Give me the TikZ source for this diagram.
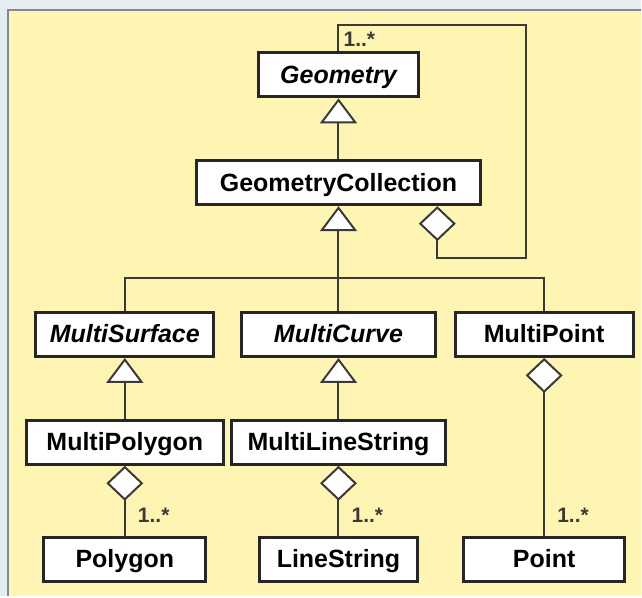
\documentclass[tikz,border=0pt]{standalone}
\usepackage{fontspec}
\setmainfont{Liberation Sans}
\usetikzlibrary{arrows.meta}

\definecolor{bgyellow}{HTML}{FEF5B2}
\definecolor{bgedge}{HTML}{E6EDF2}
\definecolor{framegray}{HTML}{7D8C94}
\definecolor{linegray}{HTML}{3A3A3A}

\tikzset{
    umlbox/.style={draw=black!85, line width=3pt, fill=white, minimum height=44pt, inner sep=0pt,
        text height=18pt, text depth=1pt,
        font=\fontsize{25}{28}\selectfont\bfseries},
    abstractbox/.style={umlbox, font=\fontsize{25}{28}\selectfont\bfseries\itshape},
    link/.style={draw=linegray, line width=2pt},
    inherit/.style={link, -{Triangle[length=25pt, width=37pt, fill=white]}},
    aggr/.style={link, {Diamond[length=35pt, width=37pt, fill=white]}-},
    mult/.style={font=\fontsize{21}{24}\selectfont\bfseries, text=linegray, inner sep=0pt, anchor=west},
}

\begin{document}
\begin{tikzpicture}[x=1pt, y=-1pt]
    % Frame and background
    \fill[bgedge] (0,0) rectangle (642,597);
    \fill[bgyellow] (8,10) rectangle (642,597);
    \draw[framegray, line width=2pt] (8,597) -- (8,10) -- (642,10);
    \useasboundingbox (0,0) rectangle (642,597);

    % Column positions
    \def\xleft{125}
    \def\xmid{339}
    \def\xright{545}

    % Classes
    \node[abstractbox, minimum width=160pt] (geom) at (\xmid,75) {Geometry};
    \node[umlbox, minimum width=284pt] (coll) at (\xmid,183) {GeometryCollection};
    \node[abstractbox, minimum width=178pt] (msurf) at (\xleft,335) {MultiSurface};
    \node[abstractbox, minimum width=194pt] (mcurve) at (\xmid,335) {MultiCurve};
    \node[umlbox, minimum width=178pt] (mpoint) at (\xright,335) {MultiPoint};
    \node[umlbox, minimum width=197pt] (mpoly) at (\xleft,443) {MultiPolygon};
    \node[umlbox, minimum width=215pt] (mline) at (\xmid,443) {MultiLineString};
    \node[umlbox, minimum width=162pt] (poly) at (\xleft,560) {Polygon};
    \node[umlbox, minimum width=159pt] (line) at (\xmid,560) {LineString};
    \node[umlbox, minimum width=161pt] (point) at (\xright,560) {Point};

    % Generalisations
    \coordinate (junc) at (\xmid,278);
    \draw[inherit] (coll) -- (geom);
    \draw[inherit] (junc) -- (coll);
    \draw[link] (msurf.north) |- (junc) -| (mpoint.north);
    \draw[link] (mcurve) -- (junc);
    \draw[inherit] (mpoly) -- (msurf);
    \draw[inherit] (mline) -- (mcurve);

    % Aggregations
    \draw[aggr] (mpoly) -- (poly);
    \draw[aggr] (mline) -- (line);
    \draw[aggr] (mpoint) -- (point);
    \coordinate (loopbot) at (438,258);
    \coordinate (looptop) at (527,25);
    \draw[aggr] (coll.south -| loopbot) -- (loopbot) -| (looptop) -| (geom.north);

    % Multiplicities
    \node[mult] (npoly) at ([xshift=13pt, yshift=20pt]poly.north) {1..*};
    \node[mult] (nline) at ([xshift=13pt, yshift=20pt]line.north) {1..*};
    \node[mult] (npoint) at ([xshift=13pt, yshift=20pt]point.north) {1..*};
    \node[mult] (ngeom) at ([xshift=5pt, yshift=12pt]geom.north) {1..*};
\end{tikzpicture}
\end{document}
